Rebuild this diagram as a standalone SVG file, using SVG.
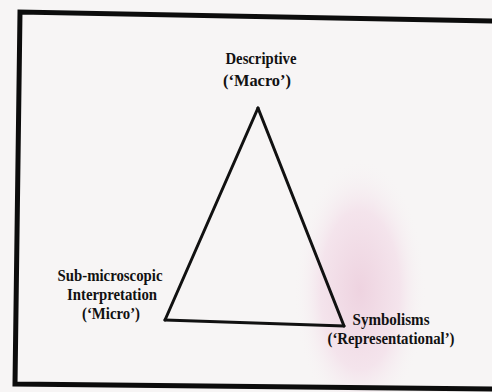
<svg xmlns="http://www.w3.org/2000/svg" width="492" height="392" viewBox="0 0 492 392">
  <defs>
    <radialGradient id="pink" cx="360" cy="290" r="110" gradientUnits="userSpaceOnUse" gradientTransform="translate(360 290) scale(0.6 1.2) translate(-360 -290)">
      <stop offset="0" stop-color="#eed3e0"/>
      <stop offset="0.6" stop-color="#f4e4ec"/>
      <stop offset="1" stop-color="#f7f5f5" stop-opacity="0"/>
    </radialGradient>
    <style>
      .lbl { font-family: "Liberation Serif", "Times New Roman", serif; font-weight: bold; font-size: 16px; fill: #111; text-anchor: middle; }
      .edge { stroke: #111; stroke-width: 3; fill: none; stroke-linecap: round; }
      .frame { stroke: #0c0c0c; stroke-width: 5; fill: none; }
    </style>
  </defs>
  <rect x="0" y="0" width="492" height="392" fill="#f7f5f5"/>
  <rect x="0" y="0" width="492" height="392" fill="url(#pink)"/>
  <path class="frame" d="M494,21 L20,12 L15,384 L494,389"/>
  <g id="connectors">
    <line class="edge" x1="258" y1="108" x2="165" y2="320"/>
    <line class="edge" x1="258" y1="108" x2="344" y2="326"/>
    <line class="edge" x1="165" y1="320" x2="344" y2="326"/>
  </g>
  <g id="macro">
    <text class="lbl" x="261" y="64" textLength="71" lengthAdjust="spacingAndGlyphs">Descriptive</text>
    <text class="lbl" x="257" y="86" textLength="68" lengthAdjust="spacingAndGlyphs">(‘Macro’)</text>
  </g>
  <g id="micro">
    <text class="lbl" x="110" y="281" textLength="105" lengthAdjust="spacingAndGlyphs">Sub-microscopic</text>
    <text class="lbl" x="112" y="300" textLength="90" lengthAdjust="spacingAndGlyphs">Interpretation</text>
    <text class="lbl" x="111" y="319" textLength="58" lengthAdjust="spacingAndGlyphs">(‘Micro’)</text>
  </g>
  <g id="representational">
    <text class="lbl" x="391" y="325" textLength="77" lengthAdjust="spacingAndGlyphs">Symbolisms</text>
    <text class="lbl" x="391" y="344" textLength="127" lengthAdjust="spacingAndGlyphs">(‘Representational’)</text>
  </g>
</svg>
